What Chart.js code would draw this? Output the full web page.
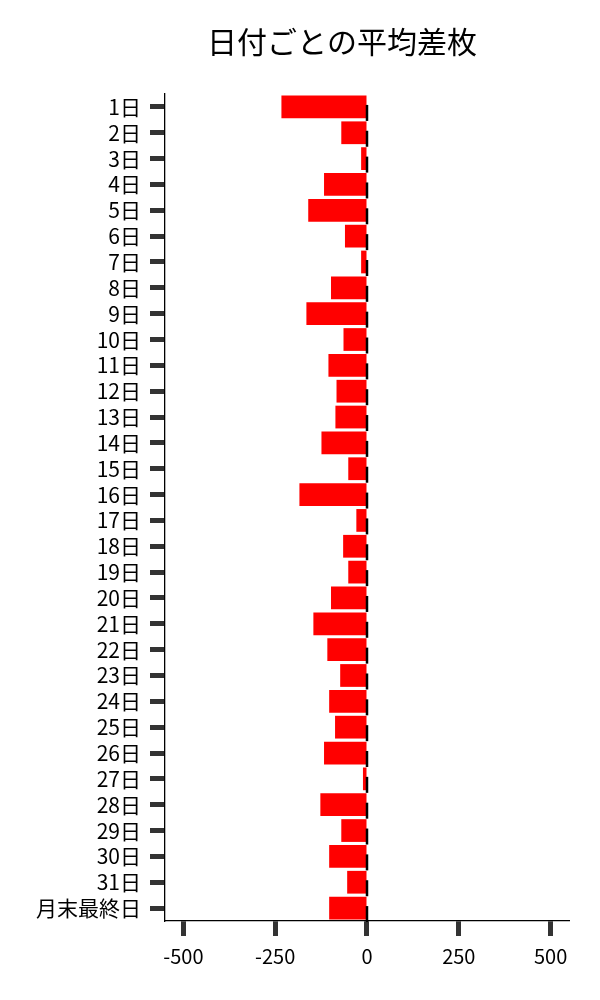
<!DOCTYPE html>
<html>
<head>
<meta charset="utf-8">
<script src="https://cdn.jsdelivr.net/npm/chart.js@4"></script>
<style>
  body { margin: 0; background: #fff; }
</style>
</head>
<body>
<canvas id="diffChart" width="600" height="1000"></canvas>
<script>
const titleText = '日付ごとの平均差枚';
const days = ['1日', '2日', '3日', '4日', '5日', '6日', '7日', '8日', '9日', '10日',
    '11日', '12日', '13日', '14日', '15日', '16日', '17日', '18日', '19日', '20日',
    '21日', '22日', '23日', '24日', '25日', '26日', '27日', '28日', '29日', '30日',
    '31日', '月末最終日'];
const avgDiff = [-233, -70, -16, -117, -160, -60, -16, -98, -165, -64,
    -105, -83, -86, -124, -51, -184, -29, -65, -51, -98,
    -146, -108, -73, -103, -87, -117, -11, -127, -70, -103,
    -54, -103];
const xTicks = [-500, -250, 0, 250, 500];

const fontFamily = "'Noto Sans CJK JP', 'Noto Sans', sans-serif";

// short black marks at zero on each bar
const zeroMarks = {
    id: 'zeroMarks',
    afterDatasetsDraw(chart) {
        const ctx = chart.ctx;
        const x0 = chart.scales.x.getPixelForValue(0);
        ctx.save();
        ctx.strokeStyle = '#000';
        ctx.lineWidth = 2.5;
        chart.getDatasetMeta(0).data.forEach(bar => {
            ctx.beginPath();
            ctx.moveTo(x0, bar.y - 2);
            ctx.lineTo(x0, bar.y + 14);
            ctx.stroke();
        });
        ctx.restore();
    }
};

const titlePlugin = {
    id: 'titlePlugin',
    afterDraw(chart) {
        const ctx = chart.ctx;
        ctx.save();
        ctx.font = '30px ' + fontFamily;
        ctx.fillStyle = '#000';
        ctx.textAlign = 'center';
        ctx.textBaseline = 'middle';
        ctx.fillText(titleText, 342, 42);
        ctx.restore();
    }
};

const ctx = document.getElementById('diffChart').getContext('2d');
const diffChart = new Chart(ctx, {
    type: 'bar',
    data: {
        labels: days,
        datasets: [{
            label: '平均差枚',
            data: avgDiff,
            backgroundColor: '#ff0000',
            borderWidth: 0,
            barPercentage: 0.88,
            categoryPercentage: 1.0
        }]
    },
    options: {
        indexAxis: 'y',
        responsive: false,
        animation: false,
        devicePixelRatio: 1,
        layout: {
            padding: { top: 94, right: 31, bottom: 24, left: 27 }
        },
        plugins: {
            legend: { display: false },
            tooltip: { enabled: false }
        },
        scales: {
            x: {
                min: -550,
                max: 550,
                afterBuildTicks: axis => {
                    axis.ticks = xTicks.map(v => ({ value: v }));
                },
                border: { display: true, color: '#000', width: 1.3 },
                grid: {
                    drawOnChartArea: false,
                    drawTicks: true,
                    tickLength: 15,
                    tickWidth: 5,
                    tickColor: '#333'
                },
                ticks: {
                    color: '#000',
                    padding: 8,
                    font: { family: fontFamily, size: 20 }
                }
            },
            y: {
                border: { display: true, color: '#000', width: 1.3 },
                grid: {
                    offset: false,
                    drawOnChartArea: false,
                    drawTicks: true,
                    tickLength: 15,
                    tickWidth: 5,
                    tickColor: '#333'
                },
                ticks: {
                    color: '#000',
                    padding: 9,
                    autoSkip: false,
                    font: { family: fontFamily, size: 21 }
                }
            }
        }
    },
    plugins: [zeroMarks, titlePlugin]
});
</script>
</body>
</html>
